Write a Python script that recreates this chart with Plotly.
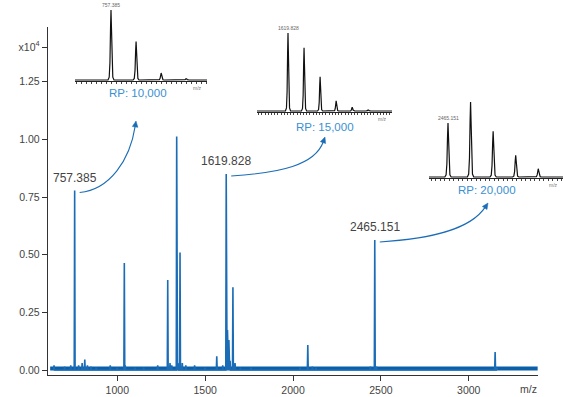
import math
import plotly.graph_objects as go

# ---------------- data ----------------
peak_mz = [640, 700, 735, 757.385, 780, 800, 815, 830, 850, 880, 960, 1000, 1040, 1045,
           1100, 1150, 1230, 1287, 1300, 1310, 1338, 1345, 1357, 1370, 1390, 1440,
           1500, 1566, 1600, 1619.828, 1627, 1635, 1642, 1658, 1670, 1700, 1760,
           2040, 2084, 2110, 2130, 2440, 2465.151, 2475, 3150, 3160]
peak_int = [0.02, 0.015, 0.02, 0.778, 0.02, 0.03, 0.045, 0.02, 0.015, 0.01, 0.02, 0.01, 0.464, 0.02,
            0.01, 0.01, 0.02, 0.390, 0.03, 0.02, 1.012, 0.03, 0.509, 0.03, 0.02, 0.02,
            0.01, 0.060, 0.02, 0.850, 0.173, 0.130, 0.04, 0.359, 0.03, 0.01, 0.01,
            0.01, 0.108, 0.015, 0.01, 0.015, 0.564, 0.015, 0.078, 0.01]
baseline_mz = [618, 3392]
baseline_int = [0.006, 0.006]

labeled_mz = [757.385, 1619.828, 2465.151]
labeled_int = [0.778, 0.850, 0.564]
labeled_text = ["757.385", "1619.828", "2465.151"]
rp_text = ["RP: 10,000", "RP: 15,000", "RP: 20,000"]

y_tickvals = [0, 0.25, 0.5, 0.75, 1.0, 1.25, 1.4]
y_ticktext = ["0.00", "0.25", "0.50", "0.75", "1.00", "1.25", "x10<sup>4</sup>"]
x_tickvals = [1000, 1500, 2000, 2500, 3000]

# isotope patterns for the insets (relative intensity)
iso1_mz = [757.385, 758.388, 759.391, 760.394]
iso1_int = [100, 55, 10, 2]
iso2_mz = [1619.828, 1620.831, 1621.834, 1622.837, 1623.840, 1624.843]
iso2_int = [100, 81, 44, 13, 5, 1.5]
iso3_mz = [2465.151, 2466.154, 2467.157, 2468.160, 2469.163]
iso3_int = [72, 100, 61, 29, 11]
# peak profile (shape of one centroid, relative)
prof_off = [-1.0, -0.6, -0.35, -0.15, 0, 0.15, 0.35, 0.6, 1.0]
prof_val = [0, 0.04, 0.25, 0.75, 1, 0.75, 0.25, 0.04, 0]

W, H = 563, 397
FONT = "Liberation Sans"
BLUE = "#1a6cb6"
LBLUE = "#3b8fd2"
GREY = "#444444"

def px(x):
    return x / W

def py(y):
    return 1 - y / H

X0, X1 = 604, 3394
PL, PR, PT, PB = 47.7, 538, 27.3, 375
Y0, Y1 = -0.0217, 1.486

def to_px(mz, inten):
    return (PL + (mz - X0) / (X1 - X0) * (PR - PL),
            PB - (inten - Y0) / (Y1 - Y0) * (PB - PT))

fig = go.Figure()

# main spectrum stems
sx, sy = [], []
for m, h in sorted(zip(peak_mz, peak_int)):
    sx += [m - 2.5, m, m + 2.5]
    sy += [0, h, 0]
fig.add_trace(go.Scatter(x=baseline_mz, y=baseline_int, mode="lines",
                         line=dict(color="#0b5ea8", width=4), hoverinfo="skip"))
fig.add_trace(go.Scatter(x=sx, y=sy, mode="lines", line=dict(color=BLUE, width=1.6),
                         hoverinfo="skip"))

# insets
insets = [
    (iso1_mz, iso1_int, (75, 207), (4, 81), 25.0, 0.12, 80, 10, 111),
    (iso2_mz, iso2_int, (257, 392), (26, 112), 16.0, 0.16, 111, 33, 288),
    (iso3_mz, iso3_int, (429, 563), (98, 178), 22.5, 0.14, 177, 102, 448),
]
for i, (mzs, ints, (xa, xb), (ya, yb), ppd, hw, base_y, top_y, first_px) in enumerate(insets, start=2):
    lo = mzs[0] - (first_px - xa) / ppd
    hi = mzs[0] + (xb - first_px) / ppd
    ppu = (base_y - top_y) / 100.0
    ylo = -(yb - base_y) / ppu
    yhi = (base_y - ya) / ppu
    ix, iy = [lo], [0]
    for m, h in zip(mzs, ints):
        for o, v in zip(prof_off, prof_val):
            ix.append(m + o * hw)
            iy.append(h * v)
    ix.append(hi)
    iy.append(0)
    fig.add_trace(go.Scatter(x=ix, y=iy, mode="lines", line=dict(color="#111111", width=1.2),
                             xaxis=f"x{i}", yaxis=f"y{i}", hoverinfo="skip"))
    fig.update_layout(**{
        f"xaxis{i}": dict(domain=[px(xa), px(xb)], range=[lo, hi], anchor=f"y{i}",
                          showline=True, linecolor="#222", linewidth=1.2,
                          ticks="outside", ticklen=2, tickcolor="#444", tickwidth=0.8,
                          dtick=0.2, showticklabels=False, showgrid=False, zeroline=False),
        f"yaxis{i}": dict(domain=[py(yb), py(ya)], range=[ylo, yhi], anchor=f"x{i}",
                          visible=False, showgrid=False, zeroline=False),
    })
    fig.add_annotation(x=mzs[0], y=ints[0], xref=f"x{i}", yref=f"y{i}",
                       text=labeled_text[i - 2], showarrow=False, xanchor="center",
                       yanchor="bottom", yshift=0, font=dict(size=5, color="#666", family=FONT))
    fig.add_annotation(x=hi, y=ylo, xref=f"x{i}", yref=f"y{i}", text="m/z", showarrow=False,
                       xanchor="right", yanchor="top", xshift=-3, yshift=-2,
                       font=dict(size=5, color="#777", family=FONT))

# peak labels
for m, h, t in zip(labeled_mz, labeled_int, labeled_text):
    fig.add_annotation(x=m, y=h, text=t, showarrow=False, xanchor="center",
                       yanchor="bottom", yshift=4,
                       font=dict(size=12, color=GREY, family=FONT))

# RP labels and curved arrows
rp_pos = [(138, 93), (325, 127), (487, 190)]
tips = [(136, 121), (325, 137), (488, 203)]
ctrl = [(110, (130, 160)), (280, (315, 165)), (430, (470, 230))]
for k, (m, h) in enumerate(zip(labeled_mz, labeled_int)):
    sxp, syp = to_px(m, h)
    sxp += 5
    syp += 2
    c1x, (c2x, c2y) = ctrl[k]
    tx, ty = tips[k]
    dx, dy = tx - c2x, ty - c2y
    dl = math.hypot(dx, dy)
    dx, dy = dx / dl, dy / dl
    nx, ny = -dy, dx
    ex, ey = tx - 5 * dx, ty - 5 * dy
    path = (f"M {px(sxp)},{py(syp)} C {px(c1x)},{py(syp - 3)} "
            f"{px(c2x)},{py(c2y)} {px(ex)},{py(ey)}")
    fig.add_shape(type="path", path=path, xref="paper", yref="paper",
                  line=dict(color=BLUE, width=1.1))
    bx, by = tx - 6 * dx, ty - 6 * dy
    head = (f"M {px(tx)},{py(ty)} L {px(bx + 2.8 * nx)},{py(by + 2.8 * ny)} "
            f"L {px(bx - 2.8 * nx)},{py(by - 2.8 * ny)} Z")
    fig.add_shape(type="path", path=head, xref="paper", yref="paper",
                  line=dict(color=BLUE, width=0.5), fillcolor=BLUE)
    fig.add_annotation(x=px(rp_pos[k][0]), y=py(rp_pos[k][1]), xref="paper", yref="paper",
                       text=rp_text[k], showarrow=False, xanchor="center", yanchor="middle",
                       font=dict(size=11.5, color=LBLUE, family=FONT))

fig.add_annotation(x=px(528), y=py(389), xref="paper", yref="paper", text="m/z",
                   showarrow=False, xanchor="center", yanchor="middle",
                   font=dict(size=10.5, color=GREY, family=FONT))

fig.update_layout(
    width=W, height=H, margin=dict(l=0, r=0, t=0, b=0),
    paper_bgcolor="white", plot_bgcolor="white", showlegend=False,
    font=dict(family=FONT, size=10.5, color=GREY),
    xaxis=dict(domain=[px(PL), px(PR)], range=[X0, X1], tickvals=x_tickvals,
               showline=True, linecolor="#333", linewidth=1, ticks="outside", ticklen=5,
               tickcolor="#333", showgrid=False, zeroline=False, anchor="y",
               tickfont=dict(size=10.5, color=GREY)),
    yaxis=dict(domain=[py(PB), py(PT)], range=[Y0, Y1], tickvals=y_tickvals,
               ticktext=y_ticktext, showline=True, linecolor="#333", linewidth=1,
               ticks="outside", ticklen=5, tickcolor="#333", showgrid=False,
               zeroline=False, anchor="x", tickfont=dict(size=10.5, color=GREY)),
)

fig.write_html("out.html", config={"displayModeBar": False},
               post_script="document.body.style.margin='0';document.body.style.overflow='hidden';")
